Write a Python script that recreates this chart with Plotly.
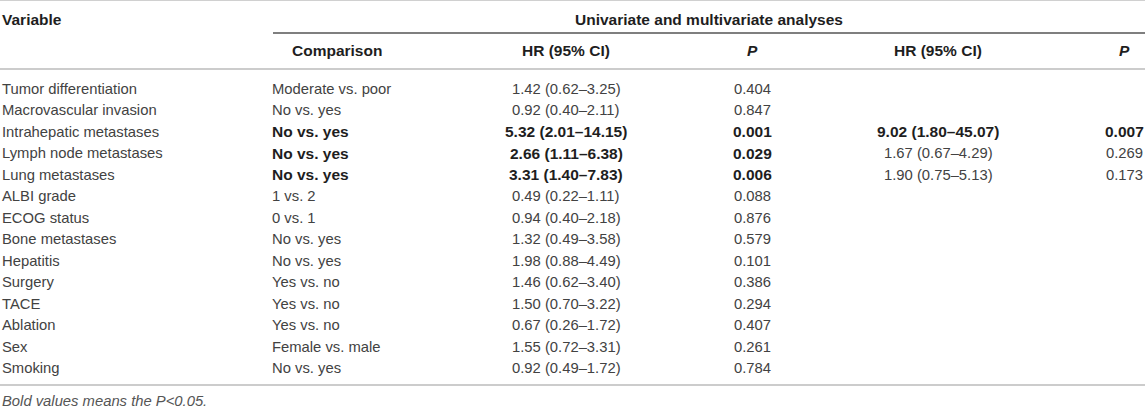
import plotly.graph_objects as go

# ---------------- data ----------------
variables = ["Tumor differentiation", "Macrovascular invasion", "Intrahepatic metastases",
             "Lymph node metastases", "Lung metastases", "ALBI grade", "ECOG status",
             "Bone metastases", "Hepatitis", "Surgery", "TACE", "Ablation", "Sex", "Smoking"]
comparisons = ["Moderate vs. poor", "No vs. yes", "No vs. yes", "No vs. yes", "No vs. yes",
               "1 vs. 2", "0 vs. 1", "No vs. yes", "No vs. yes", "Yes vs. no", "Yes vs. no",
               "Yes vs. no", "Female vs. male", "No vs. yes"]
hr_uni = ["1.42 (0.62–3.25)", "0.92 (0.40–2.11)", "5.32 (2.01–14.15)", "2.66 (1.11–6.38)",
          "3.31 (1.40–7.83)", "0.49 (0.22–1.11)", "0.94 (0.40–2.18)", "1.32 (0.49–3.58)",
          "1.98 (0.88–4.49)", "1.46 (0.62–3.40)", "1.50 (0.70–3.22)", "0.67 (0.26–1.72)",
          "1.55 (0.72–3.31)", "0.92 (0.49–1.72)"]
p_uni = ["0.404", "0.847", "0.001", "0.029", "0.006", "0.088", "0.876", "0.579", "0.101",
         "0.386", "0.294", "0.407", "0.261", "0.784"]
hr_multi = ["", "", "9.02 (1.80–45.07)", "1.67 (0.67–4.29)", "1.90 (0.75–5.13)",
            "", "", "", "", "", "", "", "", ""]
p_multi = ["", "", "0.007", "0.269", "0.173", "", "", "", "", "", "", "", "", ""]

col_headers = ["Variable", "Comparison", "HR (95% CI)", "<i>P</i>", "HR (95% CI)", "<i>P</i>"]
span_header = "Univariate and multivariate analyses"
footnote = "Bold values means the P&lt;0.05."

# ---------------- layout config ----------------
W, H = 1145, 409
FONT = "Liberation Sans, Arial, Helvetica, sans-serif"
FS = 14.8
FS_B = 15.5
REG = "#424242"
BOLD = "#1e1e1e"
PITCH = 21.46          # px per row
FIRST_ROW_PX = 89      # centre of first body row
def y_of_px(px):
    return (px - FIRST_ROW_PX) / PITCH

x_var = 0
x_comp = 270
x_comp_head = 337
x_hr1 = 566
x_p1 = 752
x_hr2 = 938
x_p2 = 1124
x_span = 709

fig = go.Figure()
fig.add_trace(go.Scatter(x=[0, W], y=[0, 0], mode="markers",
                         marker=dict(opacity=0), hoverinfo="skip", showlegend=False))

ann = []
def add(text, x, y, anchor, bold=False, italic=False, color=None):
    t = text
    if bold:
        t = "<b>" + t + "</b>"
    if italic:
        t = "<i>" + t + "</i>"
    ann.append(dict(text=t, x=x, y=y, xref="x", yref="y", xanchor=anchor, yanchor="middle",
                    showarrow=False,
                    font=dict(family=FONT, size=FS_B if bold else FS,
                              color=color or (BOLD if bold else REG))))

# headers
yh1 = y_of_px(19)
yh2 = y_of_px(50)
add(col_headers[0], x_var, yh1, "left", bold=True)
add(span_header, x_span, yh1, "center", bold=True)
add(col_headers[1], x_comp_head, yh2, "center", bold=True)
add(col_headers[2], x_hr1, yh2, "center", bold=True)
add(col_headers[3], x_p1, yh2, "center", bold=True)
add(col_headers[4], x_hr2, yh2, "center", bold=True)
add(col_headers[5], x_p2, yh2, "center", bold=True)

# body
for i in range(len(variables)):
    b1 = float(p_uni[i]) < 0.05
    add(variables[i], x_var, i, "left")
    add(comparisons[i], x_comp, i, "left", bold=b1)
    add(hr_uni[i], x_hr1, i, "center", bold=b1)
    add(p_uni[i], x_p1, i, "center", bold=b1)
    if p_multi[i]:
        b2 = float(p_multi[i]) < 0.05
        add(hr_multi[i], x_hr2, i, "center", bold=b2)
        add(p_multi[i], x_p2, i, "center", bold=b2)

add(footnote, x_var, y_of_px(401), "left", italic=True, color="#555555")

shapes = [
    dict(type="line", xref="x", yref="y", x0=0, x1=W, y0=y_of_px(0.5), y1=y_of_px(0.5),
         line=dict(color="#d0d0d0", width=1)),
    dict(type="line", xref="x", yref="y", x0=273, x1=W, y0=y_of_px(33), y1=y_of_px(33),
         line=dict(color="#555555", width=1.5)),
    dict(type="line", xref="x", yref="y", x0=0, x1=W, y0=y_of_px(69), y1=y_of_px(69),
         line=dict(color="#cccccc", width=2)),
    dict(type="line", xref="x", yref="y", x0=0, x1=W, y0=y_of_px(385), y1=y_of_px(385),
         line=dict(color="#cccccc", width=2)),
]

fig.update_layout(
    width=W, height=H, margin=dict(l=0, r=0, t=0, b=0),
    paper_bgcolor="white", plot_bgcolor="white",
    xaxis=dict(range=[0, W], visible=False, fixedrange=True),
    yaxis=dict(range=[y_of_px(H), y_of_px(0)], visible=False, fixedrange=True),
    annotations=ann, shapes=shapes, showlegend=False,
)

fig.write_html("out.html", config={"displayModeBar": False},
               post_script="document.body.style.margin='0';document.body.style.padding='0';"
                           "document.body.style.overflow='hidden';")
